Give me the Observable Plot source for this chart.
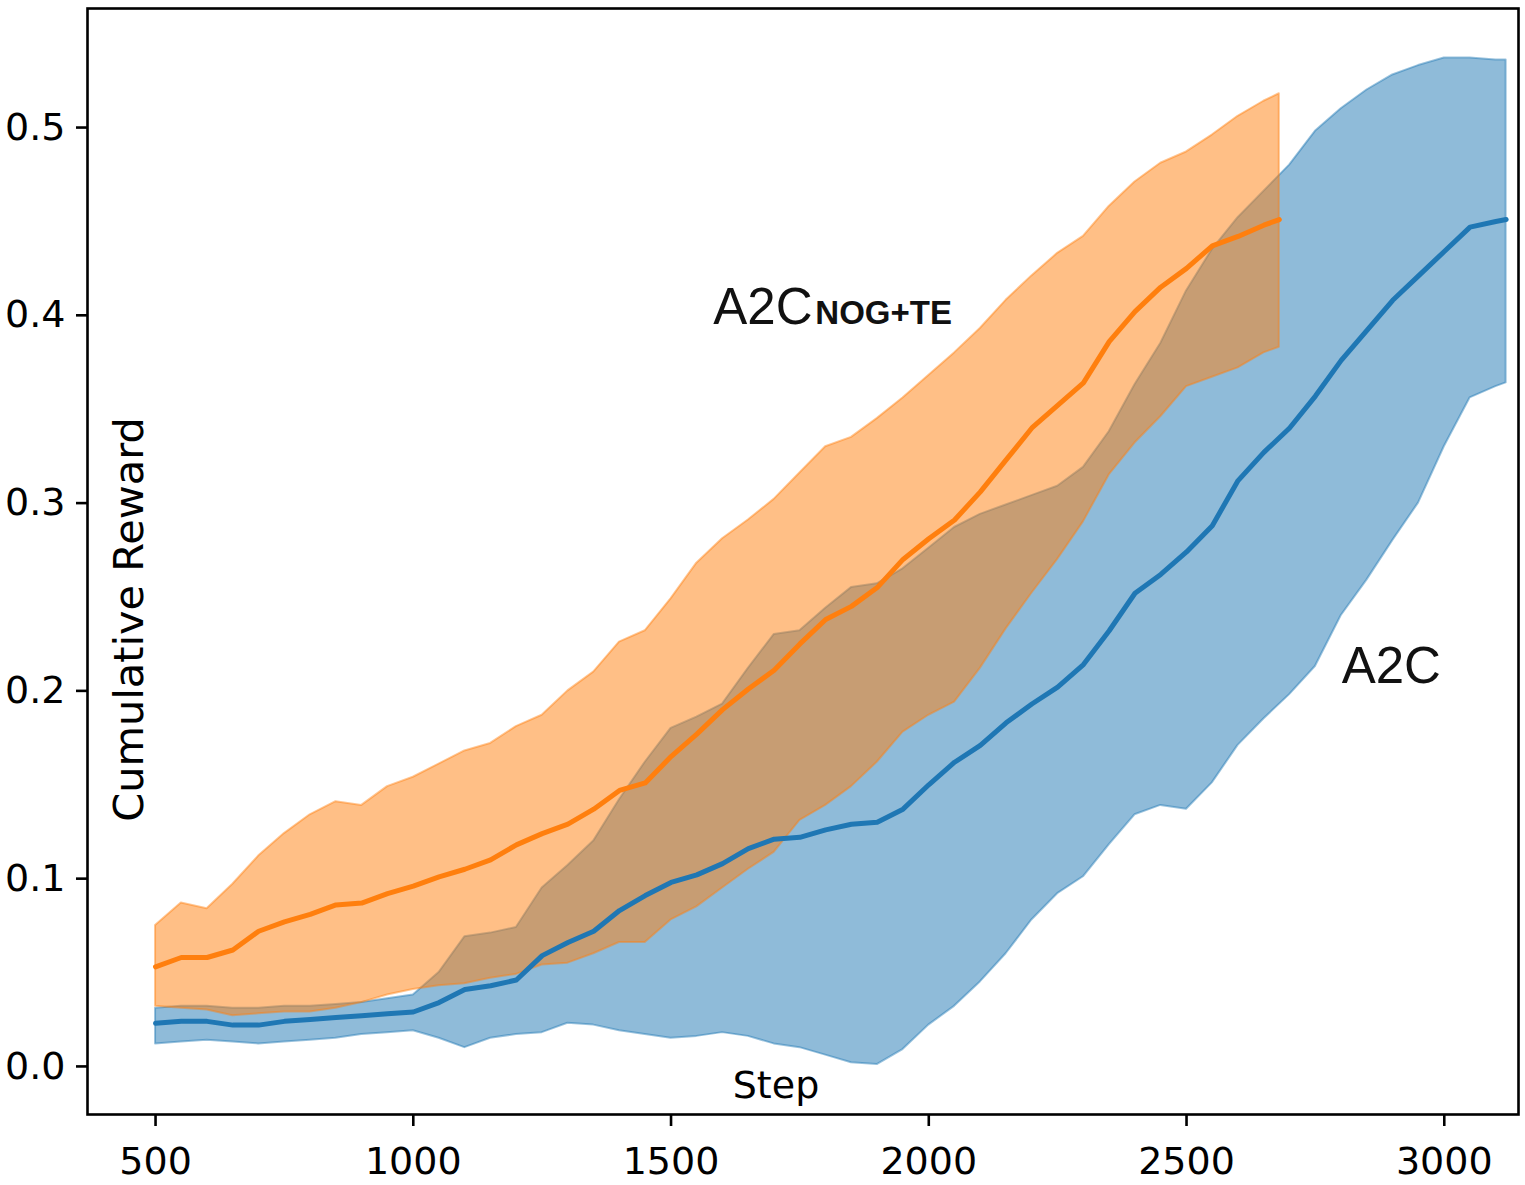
<!DOCTYPE html>
<html>
<head>
<meta charset="utf-8">
<script src="https://cdn.jsdelivr.net/npm/d3@7"></script>
<script src="https://cdn.jsdelivr.net/npm/@observablehq/plot@0.6"></script>
<style>
  html, body { margin: 0; padding: 0; background: white; }
</style>
</head>
<body>
<div id="chart"></div>
<script>
// ---- A2C NOG+TE (orange) ----
const stepsNog = [500,550,600,650,700,750,800,850,900,950,1000,1050,1100,1150,1200,1250,1300,1350,1400,1450,1500,1550,1600,1650,1700,1750,1800,1850,1900,1950,2000,2050,2100,2150,2200,2250,2300,2350,2400,2450,2500,2550,2600,2650,2680];
const meanNog  = [.053,.058,.058,.062,.072,.077,.081,.086,.087,.092,.096,.101,.105,.110,.118,.124,.129,.137,.147,.151,.165,.177,.190,.201,.211,.225,.238,.245,.255,.270,.281,.291,.306,.323,.340,.352,.364,.386,.402,.415,.425,.437,.442,.448,.451];
const upperNog = [.075,.087,.084,.097,.112,.124,.134,.141,.139,.149,.154,.161,.168,.172,.181,.187,.200,.210,.226,.232,.249,.268,.281,.291,.302,.316,.330,.335,.345,.356,.368,.380,.393,.408,.421,.433,.442,.458,.471,.481,.487,.496,.506,.514,.518];
const lowerNog = [.032,.031,.030,.027,.028,.029,.029,.031,.034,.038,.041,.043,.044,.047,.049,.054,.055,.060,.066,.066,.078,.085,.095,.105,.114,.131,.139,.149,.162,.178,.187,.194,.212,.233,.252,.270,.290,.315,.332,.346,.362,.367,.372,.380,.383];

// ---- A2C (blue) ----
const stepsA2c = [500,550,600,650,700,750,800,850,900,950,1000,1050,1100,1150,1200,1250,1300,1350,1400,1450,1500,1550,1600,1650,1700,1750,1800,1850,1900,1950,2000,2050,2100,2150,2200,2250,2300,2350,2400,2450,2500,2550,2600,2650,2700,2750,2800,2850,2900,2950,3000,3050,3100,3120];
const meanA2c  = [.023,.024,.024,.022,.022,.024,.025,.026,.027,.028,.029,.034,.041,.043,.046,.059,.066,.072,.083,.091,.098,.102,.108,.116,.121,.122,.126,.129,.130,.137,.150,.162,.171,.183,.193,.202,.214,.232,.252,.262,.274,.288,.312,.327,.340,.357,.376,.392,.408,.421,.434,.447,.450,.451];
const upperA2c = [.031,.032,.032,.031,.031,.032,.032,.033,.034,.036,.038,.050,.069,.071,.074,.095,.107,.120,.142,.162,.180,.186,.193,.212,.230,.232,.244,.255,.257,.265,.276,.287,.294,.299,.304,.309,.319,.338,.363,.385,.413,.435,.452,.466,.480,.498,.510,.520,.528,.533,.537,.537,.536,.536];
const lowerA2c = [.012,.013,.014,.013,.012,.013,.014,.015,.017,.018,.019,.015,.010,.015,.017,.018,.023,.022,.019,.017,.015,.016,.018,.016,.012,.010,.006,.002,.001,.009,.022,.032,.045,.060,.078,.092,.101,.118,.134,.139,.137,.151,.171,.185,.198,.213,.240,.259,.280,.300,.330,.356,.362,.364];

// ---- axes ----
const xTicks = [500, 1000, 1500, 2000, 2500, 3000];
const yTicks = [0, 0.1, 0.2, 0.3, 0.4, 0.5];
const xLabel = "Step";
const yLabel = "Cumulative Reward";

// ---- annotations ----
const labelMain = ["A2C"];
const labelSub = ["NOG+TE"];
const labelA2c = ["A2C"];

const BLUE = "#1f77b4", ORANGE = "#ff7f0e";

const nog = stepsNog.map((s, i) => ({step: s, mean: meanNog[i], upper: upperNog[i], lower: lowerNog[i]}));
const a2c = stepsA2c.map((s, i) => ({step: s, mean: meanA2c[i], upper: upperA2c[i], lower: lowerA2c[i]}));

const annFont = "'Liberation Sans', Arial, sans-serif";

const chart = Plot.plot({
  width: 1525,
  height: 1185,
  marginLeft: 87,
  marginRight: 7,
  marginTop: 8,
  marginBottom: 71,
  x: {domain: [368, 3144]},
  y: {domain: [-0.0256, 0.5634]},
  style: {fontFamily: "'DejaVu Sans', sans-serif", fontSize: "38px", color: "black", background: "white"},
  marks: [
    Plot.areaY(a2c, {x: "step", y1: "lower", y2: "upper", fill: BLUE, fillOpacity: 0.5, stroke: BLUE, strokeOpacity: 0.45, strokeWidth: 2}),
    Plot.areaY(nog, {x: "step", y1: "lower", y2: "upper", fill: ORANGE, fillOpacity: 0.5, stroke: ORANGE, strokeOpacity: 0.45, strokeWidth: 2}),
    Plot.line(a2c, {x: "step", y: "mean", stroke: BLUE, strokeWidth: 5}),
    Plot.line(nog, {x: "step", y: "mean", stroke: ORANGE, strokeWidth: 5}),
    Plot.frame({stroke: "black", strokeWidth: 2.6}),
    Plot.axisX({ticks: xTicks, tickSize: 12, tickPadding: 21, tickFormat: d3.format("d"), label: null, fontSize: 38, strokeWidth: 2.6}),
    Plot.axisY({ticks: yTicks, tickSize: 11, tickPadding: 11, tickFormat: d3.format(".1f"), label: null, fontSize: 38, strokeWidth: 2.6}),
    Plot.text([yLabel], {text: d => d, frameAnchor: "left", rotate: -90, lineAnchor: "bottom", textAnchor: "middle", dx: 55, dy: 58, fontSize: 41.5}),
    Plot.text([xLabel], {text: d => d, frameAnchor: "bottom", lineAnchor: "bottom", textAnchor: "middle", dx: -27, dy: -17, fontSize: 38}),
    Plot.text(labelMain, {text: d => d, x: 1582, y: 0.3956, textAnchor: "start", lineAnchor: "bottom", fontSize: 51, fontFamily: annFont, fill: "#111"}),
    Plot.text(labelSub, {text: d => d, x: 1780, y: 0.3956, textAnchor: "start", lineAnchor: "bottom", fontSize: 33, fontWeight: "bold", fontFamily: annFont, fill: "#111"}),
    Plot.text(labelA2c, {text: d => d, x: 2801, y: 0.204, textAnchor: "start", lineAnchor: "bottom", fontSize: 51, fontFamily: annFont, fill: "#111"})
  ]
});
document.getElementById("chart").appendChild(chart);
</script>
</body>
</html>
